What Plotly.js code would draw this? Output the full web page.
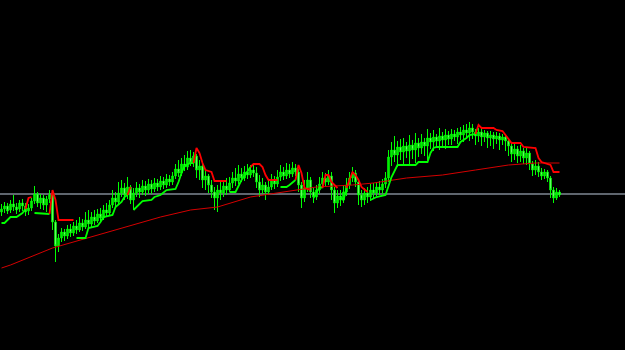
<!DOCTYPE html>
<html>
<head>
<meta charset="utf-8">
<script src="https://cdn.plot.ly/plotly-3.0.1.min.js"></script>
<style>html,body{margin:0;padding:0;background:#000;}#chart{width:625px;height:350px;}</style>
</head>
<body>
<div id="chart"></div>
<script>
// Price bars (arbitrary price units), one entry per bar
const open = [
138,141,144,140,146,143,141,147,144,139,
142,149,156,147,152,145,151,155,128,104,
112,118,114,121,117,124,120,127,123,130,
126,133,129,136,132,140,137,145,152,148,
157,162,155,163,150,157,162,158,164,160,
166,161,167,163,169,165,171,168,174,181,
177,186,183,192,187,194,180,184,170,174,
165,158,152,160,157,164,160,167,172,169,
176,172,178,175,180,177,168,160,165,158,
163,170,166,173,178,174,180,176,182,178,
165,152,162,170,158,153,160,166,172,168,
174,160,147,154,150,158,165,172,177,168,
155,150,157,153,160,157,163,160,166,172,
193,200,195,203,198,204,199,205,200,207,
202,208,204,212,208,213,209,214,210,215,
211,216,213,218,215,220,217,222,218,214,
218,213,217,212,215,211,214,210,213,209,
204,196,201,194,199,192,197,186,180,184,
178,174,178,172,160,152,158];
const high = [
146,148,147,150,155,147,150,151,147,146,
152,164,158,156,155,154,160,158,130,116,
122,121,125,126,128,130,133,131,138,140,
138,140,141,142,145,147,150,160,158,168,
170,167,173,165,162,168,166,170,169,171,
170,172,171,174,173,176,175,178,186,190,
192,195,199,200,198,196,190,186,180,176,
170,163,165,168,170,172,173,178,182,185,
182,184,186,185,187,183,175,172,168,170,
176,174,180,185,183,187,186,188,186,181,
168,170,178,173,162,165,173,178,177,180,
178,163,160,160,165,172,178,183,180,170,
160,162,163,166,167,168,169,171,178,200,
208,214,209,211,212,208,215,210,217,212,
216,212,221,217,220,216,222,218,221,219,
221,220,222,223,225,226,228,226,221,222,
221,220,219,219,218,218,217,216,215,212,
208,206,204,205,202,203,199,189,190,188,
182,181,180,174,163,162,160];
const low = [
134,137,136,137,139,136,138,139,134,135,
139,146,143,141,140,138,147,120,88,98,
108,109,111,113,114,116,118,119,121,122,
123,125,127,128,130,134,135,142,143,146,
153,150,151,146,140,153,152,155,154,156,
156,158,159,160,161,162,164,165,171,173,
174,179,180,184,183,172,170,162,160,157,
152,140,138,150,153,155,158,162,164,166,
168,169,171,172,173,162,153,156,150,155,
160,161,163,169,170,171,172,173,174,158,
142,148,158,152,147,150,156,162,163,165,
150,137,142,144,147,154,161,168,163,145,
143,145,147,149,152,154,155,156,162,168,
184,188,183,190,186,192,185,191,187,193,
196,194,190,201,199,203,200,204,201,205,
205,209,206,210,208,212,209,211,205,208,
204,208,202,204,201,206,200,205,199,194,
188,190,187,188,186,185,180,174,175,173,
170,171,168,152,147,150,153];
const close = [
141,144,139,146,143,140,147,144,138,142,
149,156,147,152,145,151,155,128,104,112,
118,114,121,117,124,120,127,123,130,126,
133,129,136,132,140,137,145,152,148,157,
162,155,163,150,157,162,158,164,160,166,
161,167,163,169,165,171,168,174,181,177,
186,183,192,187,194,180,184,170,174,165,
158,152,160,157,164,160,167,172,169,176,
172,178,175,180,177,168,160,165,158,163,
170,166,173,178,174,180,176,182,178,165,
152,162,170,158,153,160,166,172,168,174,
160,147,154,150,158,165,172,177,168,155,
150,157,153,160,157,163,160,166,172,193,
200,195,203,198,204,199,205,200,207,202,
208,204,212,208,213,209,214,210,215,211,
216,213,218,215,220,217,222,218,214,218,
213,217,212,215,211,214,210,213,209,204,
196,201,194,199,192,197,186,180,184,178,
174,178,172,160,152,158,155];

// Long moving average: [bar index, value] read points
const maBar = [0,3,17,53,63,72,83,94,105,117,124,135,147,158,169,178,186];
const maVal = [82,85,102,133,140,143,153,158,163,165,167,172,175,180,185,187,187];

// Trailing stop line, segments alternating (green = support, red = resistance)
const stopSegments = [
 {side:"up",   bar:[0,1,2,3,5,7,8],            val:[127,127,130,133,133,137,141]},
 {side:"down", bar:[8,9,10],                   val:[141,152,153]},
 {side:"up",   bar:[11,16],                    val:[137,136]},
 {side:"down", bar:[16,17,18,19,24],           val:[136,160,150,130,130]},
 {side:"up",   bar:[25,28,29,32,33,34,37,38,40,41,42], val:[112,112,122,124,128,133,135,143,148,153,155]},
 {side:"down", bar:[42,43],                    val:[155,163]},
 {side:"up",   bar:[44,45,46,47,50,51,53,54,55,58,59,60,61,63,64], val:[140,143,145,149,150,153,155,158,160,161,168,177,184,187,187]},
 {side:"down", bar:[64,65,66,67,68,70,71,75],  val:[187,202,197,187,180,178,169,169]},
 {side:"up",   bar:[76,78,80,82,83],           val:[158,158,170,178,183]},
 {side:"down", bar:[83,84,86,87,88,89,92],     val:[183,186,186,183,175,170,170]},
 {side:"up",   bar:[93,95,96,98],              val:[163,163,165,170]},
 {side:"down", bar:[98,99,100,101,103],        val:[170,185,177,162,160]},
 {side:"up",   bar:[104,106,107],              val:[152,163,162]},
 {side:"down", bar:[107,108,109,110,112],      val:[162,175,175,168,162]},
 {side:"up",   bar:[113,114,115],              val:[153,150,162]},
 {side:"down", bar:[115,117,118,119,120,122],  val:[162,178,175,170,163,158]},
 {side:"up",   bar:[123,125,128,129,130,132,138,139,142,143,144,145,152,153,155,156,158], val:[150,153,155,165,173,185,185,188,188,197,202,203,203,208,212,215,216]},
 {side:"down", bar:[158,159,160,164,165,167,168,170,173,174,178,179,180,183,184,186], val:[216,225,222,222,220,219,215,207,207,203,202,192,188,185,178,178]}
];

const refLevel = 156;

const bars = close.map((_, i) => i);

const traces = [];
traces.push({
  type: "scatter", mode: "lines", x: maBar, y: maVal,
  line: {color: "#d40000", width: 1}, hoverinfo: "skip", showlegend: false
});
traces.push({
  type: "candlestick", x: bars, open: open, high: high, low: low, close: close,
  increasing: {line: {color: "#00ff00", width: 1}, fillcolor: "#00e000"},
  decreasing: {line: {color: "#00ff00", width: 1}, fillcolor: "#b4ffb4"},
  whiskerwidth: 0, showlegend: false, hoverinfo: "skip"
});
stopSegments.forEach(s => {
  traces.push({
    type: "scatter", mode: "lines", x: s.bar, y: s.val,
    line: {color: s.side === "up" ? "#00ff00" : "#ff0000", width: 1.8},
    hoverinfo: "skip", showlegend: false
  });
});

const layout = {
  width: 625, height: 350,
  margin: {l: 0, r: 0, t: 0, b: 0, pad: 0},
  paper_bgcolor: "#000000", plot_bgcolor: "#000000",
  showlegend: false,
  xaxis: {visible: false, range: [-0.5, 207.83], rangeslider: {visible: false}, fixedrange: true},
  yaxis: {visible: false, range: [0, 350], fixedrange: true},
  shapes: [{
    type: "line", xref: "paper", x0: 0, x1: 1, yref: "y", y0: refLevel, y1: refLevel,
    line: {color: "#5f666e", width: 2}, layer: "below"
  }]
};

Plotly.newPlot("chart", traces, layout, {staticPlot: true, displayModeBar: false});
</script>
</body>
</html>
